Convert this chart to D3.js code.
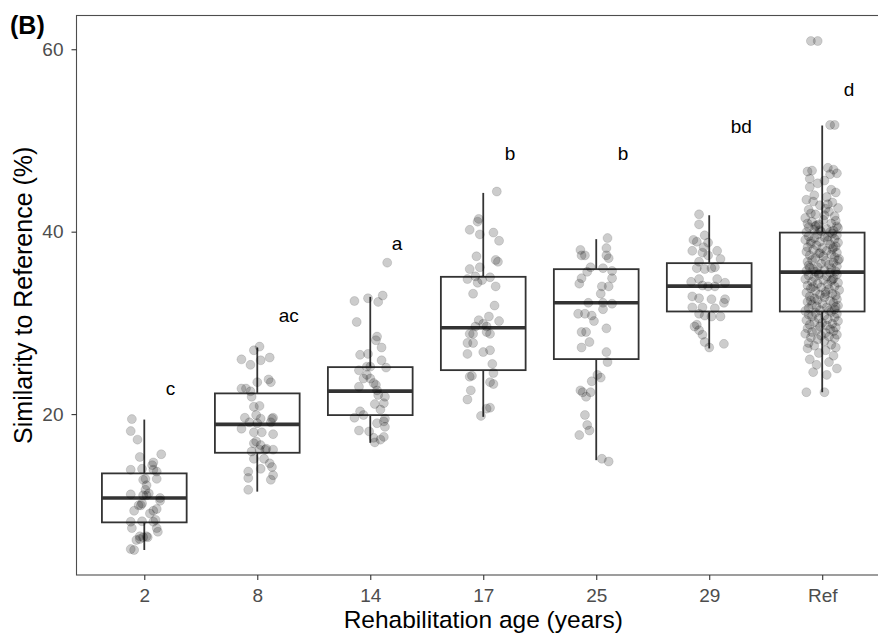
<!DOCTYPE html>
<html>
<head>
<meta charset="utf-8">
<script src="https://cdn.jsdelivr.net/npm/d3@7"></script>
<style>
  body { margin: 0; background: #fff; }
  svg { display: block; font-family: "Liberation Sans", Arial, sans-serif; }
</style>
</head>
<body>
<div id="chart"></div>
<script>
'use strict';

const categories = ['2', '8', '14', '17', '25', '29', 'Ref'];

// box statistics (%)
const whiskerLow = [5.1, 11.5, 16.85, 19.7, 14.95, 27.2, 22.4];
const boxQ1 = [8.13, 15.76, 19.89, 24.82, 26.03, 31.25, 31.25];
const boxMedian = [10.8, 18.87, 22.52, 29.46, 32.2, 34.03, 35.56];
const boxQ3 = [13.5, 22.27, 25.15, 35.05, 35.89, 36.55, 39.9];
const whiskerHigh = [19.4, 27.3, 32.85, 44.25, 39.18, 41.8, 51.64];

// significance letters and their baseline height (%)
const groupLetters = ['c', 'ac', 'a', 'b', 'b', 'bd', 'd'];
const letterY = [22.08, 30.12, 37.97, 47.89, 47.89, 50.87, 54.82];

const yTicks = [20, 40, 60];

// jittered observations: [horizontal jitter (category units), similarity %]
const points2 = [
  [-0.11, 19.45], [-0.12, 18.14], [-0.06, 17.2], [-0.04, 15.3], [0.08, 14.7], [0.15, 15.6],
  [0.07, 14.4], [-0.12, 13.9], [-0.02, 14.0], [0.08, 13.9], [0.11, 13.7], [0.11, 12.9],
  [0.01, 12.9], [0.02, 12.2], [0.01, 11.7], [-0.12, 11.2], [-0.01, 11.1], [0.02, 11.1],
  [0.14, 10.8], [-0.02, 10.2], [-0.05, 10.0], [-0.09, 9.4], [0.08, 9.4], [0.11, 9.6],
  [0.05, 9.1], [0.10, 8.4], [-0.12, 8.2], [-0.02, 8.25], [0.08, 8.2], [-0.11, 7.5],
  [0.11, 7.5], [0.12, 7.1], [-0.04, 6.6], [-0.07, 6.2], [-0.01, 6.5], [0.03, 6.5],
  [-0.09, 5.1], [-0.12, 5.2], [-0.04, 6.3], [0.02, 6.6], [0.14, 10.5], [-0.01, 12.8],
  [-0.03, 10.0], [0.04, 11.3]
];

const points8 = [
  [0.02, 27.4], [-0.03, 27.0], [-0.14, 26.0], [-0.06, 25.4], [0.03, 25.9], [0.11, 26.2],
  [0.00, 23.5], [0.10, 23.8], [0.12, 23.5], [-0.14, 22.8], [-0.10, 22.8], [-0.06, 22.5],
  [-0.05, 21.9], [-0.03, 20.8], [0.02, 20.9], [-0.11, 19.6], [-0.01, 19.9], [0.03, 19.5],
  [0.13, 19.5], [0.14, 19.6], [0.12, 19.1], [-0.14, 18.4], [-0.03, 18.0], [0.04, 18.0],
  [0.14, 17.8], [-0.01, 17.0], [0.03, 16.6], [-0.03, 16.8], [0.08, 16.2], [0.14, 16.1],
  [0.07, 16.1], [-0.05, 15.9], [-0.03, 15.1], [0.06, 15.1], [0.11, 14.6], [0.13, 14.2],
  [0.03, 14.0], [0.14, 13.3], [-0.08, 13.7], [-0.08, 13.0], [0.12, 12.8], [-0.08, 11.7],
  [0.02, 16.1], [0.00, 19.0], [-0.07, 19.1]
];

const points14 = [
  [0.15, 36.6], [-0.14, 32.4], [-0.02, 32.7], [0.07, 32.3], [0.11, 33.0], [-0.12, 30.1],
  [0.06, 28.5], [0.05, 28.1], [0.10, 27.3], [-0.09, 26.5], [-0.02, 26.6], [0.10, 25.9],
  [0.14, 25.1], [0.00, 25.2], [-0.10, 24.8], [-0.03, 24.3], [-0.06, 23.9], [0.00, 23.9],
  [0.05, 23.2], [-0.10, 23.0], [0.06, 22.6], [0.13, 21.9], [0.12, 21.2], [0.04, 21.1],
  [0.09, 20.5], [-0.09, 20.3], [-0.14, 19.6], [-0.06, 19.9], [0.13, 19.5], [0.12, 19.2],
  [0.06, 19.0], [-0.10, 18.2], [-0.01, 18.1], [0.13, 18.6], [0.03, 17.4], [0.12, 17.5],
  [0.04, 16.9], [0.09, 17.2], [-0.03, 25.2], [0.03, 23.4], [0.07, 22.1]
];

const points17 = [
  [0.12, 44.4], [-0.04, 41.4], [-0.05, 41.1], [-0.12, 40.2], [-0.03, 39.7], [0.09, 39.9],
  [0.14, 39.0], [-0.06, 37.3], [0.11, 36.9], [0.13, 36.7], [-0.12, 35.9], [-0.03, 36.1],
  [-0.14, 34.8], [-0.07, 35.1], [-0.01, 34.7], [0.06, 35.0], [-0.05, 34.4], [-0.09, 33.2],
  [0.11, 34.0], [0.10, 31.9], [-0.04, 30.3], [0.05, 30.7], [0.14, 30.2], [-0.07, 29.6],
  [0.03, 29.6], [-0.09, 28.8], [0.06, 28.8], [-0.12, 28.8], [-0.14, 27.8], [-0.09, 27.8],
  [-0.14, 26.6], [0.00, 26.8], [0.06, 27.0], [0.08, 25.5], [0.09, 24.5], [-0.12, 24.1],
  [0.06, 23.5], [0.09, 23.3], [-0.11, 22.6], [-0.14, 21.6], [0.03, 20.6], [0.06, 20.7],
  [-0.02, 19.8], [-0.10, 24.2], [0.00, 29.9], [0.03, 29.0]
];

const points25 = [
  [0.10, 39.3], [0.09, 38.2], [-0.14, 38.0], [-0.13, 37.4], [-0.10, 37.4], [0.09, 37.4],
  [0.11, 37.1], [-0.05, 36.1], [0.06, 36.0], [0.14, 35.7], [-0.08, 35.6], [0.14, 34.9],
  [-0.13, 34.9], [-0.15, 34.3], [0.05, 34.0], [0.11, 34.0], [0.04, 33.2], [-0.07, 32.2],
  [0.06, 32.2], [0.14, 32.1], [0.06, 31.5], [-0.16, 31.0], [-0.10, 31.0], [-0.04, 30.8],
  [-0.02, 30.2], [0.09, 29.4], [-0.13, 29.0], [-0.09, 29.0], [-0.06, 27.9], [-0.13, 27.3],
  [0.09, 26.8], [0.10, 25.7], [0.01, 24.3], [0.04, 24.0], [-0.04, 23.6], [-0.14, 22.6],
  [-0.12, 22.4], [-0.09, 21.9], [-0.05, 22.4], [-0.10, 19.9], [-0.08, 18.8], [-0.06, 18.2],
  [-0.15, 17.7], [0.05, 15.1], [0.11, 14.8]
];

const points29 = [
  [-0.09, 41.9], [-0.09, 40.8], [-0.04, 39.6], [-0.14, 39.1], [-0.11, 38.9], [-0.01, 38.8],
  [-0.05, 38.3], [-0.15, 37.9], [-0.06, 37.7], [0.07, 37.9], [-0.01, 37.4], [0.10, 37.0],
  [-0.09, 36.7], [-0.11, 36.0], [0.02, 36.0], [0.05, 36.1], [-0.04, 35.9], [-0.16, 34.5],
  [-0.09, 34.8], [0.07, 34.8], [0.14, 34.4], [-0.06, 34.1], [-0.01, 34.0], [0.05, 34.0],
  [-0.15, 32.9], [-0.09, 32.7], [0.02, 32.6], [0.14, 32.6], [0.13, 32.2], [-0.15, 31.7],
  [-0.06, 31.7], [0.05, 31.6], [-0.09, 31.0], [0.10, 30.7], [0.02, 30.7], [-0.04, 30.8],
  [-0.11, 29.8], [-0.09, 29.2], [-0.06, 28.7], [-0.04, 27.9], [0.00, 27.3], [0.13, 27.7],
  [-0.13, 29.6]
];

const pointsRef = [
  [-0.10, 60.9], [-0.04, 60.9], [0.07, 51.7], [0.11, 51.7],
  [-0.13, 46.6], [-0.09, 46.7], [0.05, 47.0], [0.10, 46.8], [0.13, 46.4], [0.07, 46.3],
  [-0.04, 45.3], [0.02, 45.6], [-0.11, 44.9], [0.12, 44.3], [-0.07, 44.0], [0.04, 43.8],
  [-0.14, 43.5], [0.09, 43.2], [-0.02, 42.9], [0.14, 42.6], [-0.12, 42.4], [0.06, 42.2],
  [-0.06, 41.9], [0.11, 41.7], [-0.15, 41.5], [0.01, 41.3], [-0.09, 41.1], [0.08, 40.9],
  [-0.03, 40.8], [0.13, 40.6], [-0.12, 40.5], [0.04, 40.3], [-0.07, 40.2], [0.10, 40.1],
  [-0.01, 40.0], [-0.14, 39.95], [0.05, 43.0], [-0.10, 42.0], [0.12, 41.2], [-0.05, 40.7],
  [0.02, 41.8], [-0.13, 40.9], [0.08, 44.6], [-0.08, 43.3], [0.14, 40.4], [-0.02, 40.15],
  [0.07, 39.95], [-0.11, 45.8], [0.03, 42.5], [-0.06, 40.6],
  [0.09, 39.8], [-0.04, 39.7], [0.13, 39.6], [-0.12, 39.5], [0.02, 39.4], [-0.07, 39.3],
  [0.11, 39.2], [-0.15, 39.1], [0.05, 39.0], [-0.02, 38.9], [0.14, 38.8], [-0.10, 38.7],
  [0.07, 38.6], [-0.05, 38.5], [0.12, 38.4], [-0.13, 38.3], [0.00, 38.2], [0.09, 38.1],
  [-0.08, 38.0], [0.04, 37.9], [-0.14, 37.8], [0.13, 37.7], [-0.03, 37.6], [0.08, 37.5],
  [-0.11, 37.4], [0.01, 37.3], [0.11, 37.2], [-0.06, 37.1], [0.15, 37.0], [-0.09, 36.9],
  [0.03, 36.8], [-0.13, 36.7], [0.10, 36.6], [-0.01, 36.5], [0.06, 36.4], [-0.12, 36.3],
  [0.13, 36.2], [-0.04, 36.1], [0.08, 36.0], [-0.08, 35.9], [0.02, 35.8], [-0.14, 35.7],
  [0.12, 35.65], [-0.06, 35.6], [0.05, 39.45], [-0.10, 38.95], [0.10, 38.25], [-0.02, 37.65],
  [0.14, 36.85], [-0.11, 36.05],
  [0.07, 35.5], [-0.03, 35.4], [0.13, 35.3], [-0.12, 35.2], [0.04, 35.1], [-0.07, 35.0],
  [0.10, 34.9], [-0.15, 34.8], [0.01, 34.7], [0.08, 34.6], [-0.09, 34.5], [0.14, 34.4],
  [-0.04, 34.3], [0.05, 34.2], [-0.13, 34.1], [0.11, 34.0], [-0.01, 33.9], [-0.10, 33.8],
  [0.06, 33.7], [0.15, 33.6], [-0.06, 33.5], [0.03, 33.4], [-0.14, 33.3], [0.09, 33.2],
  [-0.02, 33.1], [0.12, 33.0], [-0.11, 32.9], [0.02, 32.8], [-0.07, 32.7], [0.13, 32.6],
  [-0.04, 32.5], [0.07, 32.4], [-0.13, 32.3], [0.10, 32.2], [0.00, 32.1], [-0.09, 32.0],
  [0.14, 31.9], [-0.05, 31.8], [0.04, 31.7], [-0.12, 31.6], [0.11, 31.5], [-0.02, 31.4],
  [0.06, 31.35], [-0.15, 31.3], [0.09, 34.75], [-0.08, 33.95], [0.03, 33.15], [-0.10, 32.45],
  [0.12, 31.75], [-0.03, 35.25],
  [0.08, 31.2], [-0.06, 31.1], [0.13, 31.0], [-0.12, 30.9], [0.02, 30.8], [-0.09, 30.7],
  [0.11, 30.6], [-0.03, 30.5], [0.05, 30.4], [-0.14, 30.3], [0.14, 30.2], [-0.07, 30.1],
  [0.00, 30.0], [0.09, 29.9], [-0.11, 29.8], [0.04, 29.7], [-0.02, 29.6], [0.12, 29.5],
  [-0.13, 29.4], [0.07, 29.3], [-0.05, 29.2], [0.10, 29.1], [-0.09, 29.0], [0.03, 28.9],
  [-0.15, 28.8], [0.13, 28.7], [-0.01, 28.6], [0.06, 28.5], [-0.10, 28.4], [0.11, 28.3],
  [-0.04, 28.2], [0.02, 28.0], [-0.12, 27.8], [0.08, 27.6], [-0.07, 27.5], [0.12, 27.3],
  [-0.13, 27.2], [0.03, 27.0], [-0.03, 26.7], [0.10, 26.4], [-0.11, 26.0], [0.06, 25.7],
  [-0.05, 25.4], [0.13, 25.0], [-0.08, 24.6], [0.04, 24.3], [-0.14, 22.4], [0.02, 22.4]
];

const groupPoints = [points2, points8, points14, points17, points25, points29, pointsRef];

const width = 878;
const height = 637;
const panel = { left: 76.5, right: 890, top: 15.5, bottom: 575 };

const svg = d3.select('#chart')
  .append('svg')
  .attr('width', width)
  .attr('height', height);

const x = d3.scalePoint()
  .domain(categories)
  .range([panel.left, panel.right])
  .padding(0.6);

const y = d3.scaleLinear()
  .domain([2.36, 63.7])
  .range([panel.bottom, panel.top]);

const step = x.step();
const boxWidth = step * 0.75;

// boxes (whiskers, box, median)
const boxes = svg.append('g')
  .selectAll('g')
  .data(categories)
  .join('g')
  .attr('stroke', '#333')
  .attr('fill', 'none');

boxes.append('line')
  .attr('x1', (d) => x(d))
  .attr('x2', (d) => x(d))
  .attr('y1', (d, i) => y(whiskerHigh[i]))
  .attr('y2', (d, i) => y(boxQ3[i]))
  .attr('stroke-width', 1.8);

boxes.append('line')
  .attr('x1', (d) => x(d))
  .attr('x2', (d) => x(d))
  .attr('y1', (d, i) => y(boxQ1[i]))
  .attr('y2', (d, i) => y(whiskerLow[i]))
  .attr('stroke-width', 1.8);

boxes.append('rect')
  .attr('x', (d) => x(d) - boxWidth / 2)
  .attr('y', (d, i) => y(boxQ3[i]))
  .attr('width', boxWidth)
  .attr('height', (d, i) => y(boxQ1[i]) - y(boxQ3[i]))
  .attr('stroke-width', 1.8);

boxes.append('line')
  .attr('x1', (d) => x(d) - boxWidth / 2)
  .attr('x2', (d) => x(d) + boxWidth / 2)
  .attr('y1', (d, i) => y(boxMedian[i]))
  .attr('y2', (d, i) => y(boxMedian[i]))
  .attr('stroke-width', 3.6);

// jittered points on top
const pointData = groupPoints.flatMap((pts, i) =>
  pts.map(([jit, value]) => ({ cat: categories[i], jit, value })));

svg.append('g')
  .selectAll('circle')
  .data(pointData)
  .join('circle')
  .attr('cx', (d) => x(d.cat) + d.jit * step)
  .attr('cy', (d) => y(d.value))
  .attr('r', 4.5)
  .attr('fill', '#000')
  .attr('fill-opacity', 0.2)
  .attr('stroke', '#000')
  .attr('stroke-opacity', 0.15)
  .attr('stroke-width', 0.8);

// letters
svg.append('g')
  .selectAll('text')
  .data(categories)
  .join('text')
  .attr('x', (d) => x(d) + 0.19 * step)
  .attr('y', (d, i) => y(letterY[i]))
  .attr('font-size', 19)
  .attr('fill', '#000')
  .text((d, i) => groupLetters[i]);

// panel border
svg.append('rect')
  .attr('x', panel.left)
  .attr('y', panel.top)
  .attr('width', panel.right - panel.left)
  .attr('height', panel.bottom - panel.top)
  .attr('fill', 'none')
  .attr('stroke', '#4d4d4d')
  .attr('stroke-width', 1.1);

// axes
const yAxis = svg.append('g')
  .attr('transform', `translate(${panel.left}, 0)`)
  .call(d3.axisLeft(y).tickValues(yTicks).tickSize(5).tickPadding(8));

const xAxis = svg.append('g')
  .attr('transform', `translate(0, ${panel.bottom})`)
  .call(d3.axisBottom(x).tickSize(5).tickPadding(9));

[xAxis, yAxis].forEach((ax) => {
  ax.select('.domain').remove();
  ax.selectAll('.tick line').attr('stroke', '#333').attr('stroke-width', 1.1);
  ax.selectAll('.tick text')
    .attr('fill', '#4d4d4d')
    .attr('font-size', 19)
    .attr('font-family', '"Liberation Sans", Arial, sans-serif');
});

// axis titles
svg.append('text')
  .attr('x', (panel.left + panel.right) / 2)
  .attr('y', 628)
  .attr('text-anchor', 'middle')
  .attr('font-size', 24.5)
  .attr('fill', '#000')
  .text('Rehabilitation age (years)');

svg.append('text')
  .attr('transform', `translate(32, ${(panel.top + panel.bottom) / 2}) rotate(-90)`)
  .attr('text-anchor', 'middle')
  .attr('font-size', 25)
  .attr('fill', '#000')
  .text('Similarity to Reference (%)');

// panel tag
svg.append('text')
  .attr('x', 10)
  .attr('y', 34)
  .attr('font-size', 25)
  .attr('font-weight', 'bold')
  .attr('fill', '#000')
  .text('(B)');
</script>
</body>
</html>
